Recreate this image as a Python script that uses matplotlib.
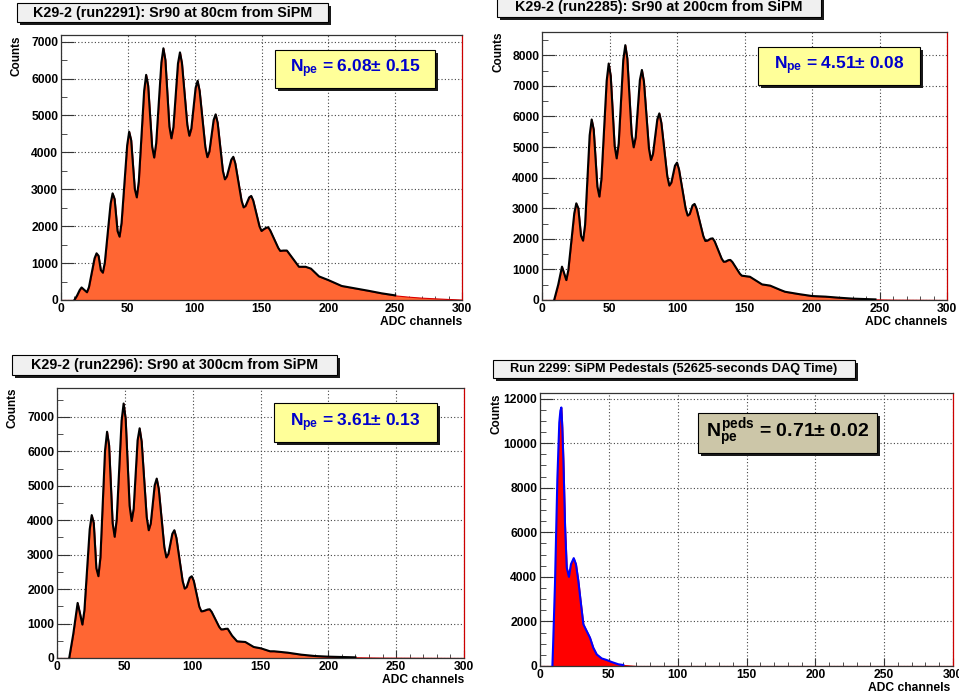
import matplotlib
matplotlib.use("Agg")
import matplotlib.pyplot as plt
from matplotlib.patches import Rectangle
from matplotlib.ticker import MultipleLocator

plt.rcParams["font.family"] = ["Liberation Sans", "DejaVu Sans"]
plt.rcParams["font.weight"] = "bold"
plt.rcParams["mathtext.fontset"] = "custom"
plt.rcParams["mathtext.rm"] = "Liberation Sans:bold"
plt.rcParams["mathtext.it"] = "Liberation Sans:bold"
plt.rcParams["mathtext.bf"] = "Liberation Sans:bold"

W, H = 959, 698

# run 2291, source at 80 cm
adc_80 = [0, 10, 12, 14, 15.4, 17.4, 19.4, 20.9, 25.1, 26.6, 28.1, 29.8, 31.3,
          32.8, 37.1, 38.6, 40.1, 42.3, 43.8, 45.3, 49.5, 51, 52.5, 55.2, 56.7,
          58.2, 62.2, 63.7, 65.2, 68.2, 69.7, 71.2, 75.1, 76.6, 78.1, 81.1, 82.6,
          84.1, 87.5, 89, 90.5, 94.5, 96, 97.5, 100.7, 102.2, 103.7, 108, 109.5,
          111, 114.2, 115.7, 117.2, 121.1, 122.6, 124.1, 127.4, 128.9, 130.4,
          135.1, 136.6, 138.1, 140.8, 142.3, 143.8, 148.5, 150, 151.5, 153.5,
          155, 156.5, 162.5, 164, 166.5, 169, 173.5, 178, 183, 187, 193, 200,
          210, 220, 230, 240, 250, 260, 270, 280, 290, 300]
counts_80 = [0, 0, 120, 270, 340, 275, 210, 347, 1128, 1265, 1197, 808, 740,
             1020, 2610, 2890, 2737, 1869, 1716, 2086, 4190, 4560, 4329, 3011,
             2780, 3212, 5668, 6100, 5809, 4151, 3860, 4245, 6435, 6820, 6503,
             4697, 4380, 4683, 6407, 6710, 6416, 4744, 4450, 4644, 5746, 5940,
             5671, 4139, 3870, 4021, 4879, 5030, 4801, 3499, 3270, 3349, 3801,
             3880, 3702, 2688, 2510, 2550, 2780, 2820, 2696, 1994, 1870, 1913,
             1957, 1970, 1887, 1413, 1330, 1340, 1340, 1120, 900, 900, 850, 640,
             540, 380, 315, 250, 180, 125, 90, 63, 45, 27, 10]

# run 2285, source at 200 cm
adc_200 = [0, 9, 12, 14.8, 16.4, 18, 19.5, 23.9, 25.4, 26.9, 28.9, 30.4, 31.9,
           35.3, 36.8, 38.3, 41, 42.5, 44, 47.9, 49.4, 50.9, 53.8, 55.3, 56.8,
           60.2, 61.7, 63.2, 66.4, 67.9, 69.4, 72.5, 74, 75.5, 79.2, 80.7, 82.2,
           85.4, 86.9, 88.4, 92.8, 94.3, 95.8, 98.5, 100, 101.5, 106.4, 107.9,
           109.4, 111.5, 113, 114.5, 119.5, 121, 122.5, 124.9, 126.4, 127.9,
           133.1, 134.6, 136.1, 138, 139.5, 141, 146.5, 148, 154, 163, 169,
           176.5, 180, 190, 200, 210, 220, 230, 240, 247, 260, 300]
counts_200 = [0, 0, 500, 1090, 870, 650, 976, 2834, 3160, 3001, 2099, 1940,
              2455, 5385, 5900, 5572, 3708, 3380, 3946, 7164, 7730, 7327, 5033,
              4630, 5111, 7849, 8330, 7896, 5424, 4990, 5319, 7191, 7520, 7137,
              4958, 4575, 4773, 5902, 6100, 5793, 4047, 3740, 3838, 4392, 4490,
              4265, 2985, 2760, 2809, 3091, 3140, 2983, 2087, 1930, 1941, 2004,
              2015, 1916, 1349, 1250, 1258, 1302, 1310, 1243, 862, 795, 760, 510,
              470, 330, 270, 195, 130, 110, 75, 45, 30, 20, 10, 0]

# run 2296, source at 300 cm
adc_300 = [0, 9, 12, 15.2, 17, 18.7, 20.2, 24.1, 25.6, 27.1, 29, 30.5, 32, 35.4,
           36.9, 38.4, 41, 42.5, 44, 47.6, 49.1, 50.6, 53.5, 55, 56.5, 59.4,
           60.9, 62.4, 66.1, 67.6, 69.1, 72, 73.5, 75, 79.1, 80.6, 82.1, 85,
           86.5, 88, 92.6, 94.1, 95.6, 97.8, 99.3, 100.8, 104.9, 106.4, 107.9,
           111, 112.5, 114, 119.5, 121, 122.5, 124.3, 125.8, 129, 132.7, 135.5,
           138.8, 145, 150.4, 157, 160, 170, 180, 190, 200, 210, 220, 240, 300]
counts_300 = [0, 0, 700, 1600, 1285, 970, 1383, 3737, 4150, 3919, 2606, 2375,
              2920, 6025, 6570, 6173, 3917, 3520, 4023, 6887, 7390, 6947, 4423,
              3980, 4330, 6320, 6670, 6285, 4095, 3710, 3905, 5015, 5210, 4912,
              3218, 2920, 3023, 3607, 3710, 3490, 2235, 2015, 2062, 2328, 2375,
              2242, 1488, 1355, 1363, 1407, 1415, 1339, 906, 830, 833, 847, 850,
              650, 485, 475, 465, 320, 280, 195, 195, 155, 97, 58, 39, 29, 20,
              10, 0]

# run 2299, pedestals
adc_ped = [0, 9, 9.5, 10.9, 12.6, 14, 14.8, 15.5, 16.2, 17, 18.2, 19.4, 21, 22.5,
           24.5, 26.1, 27.8, 29.5, 31.5, 33.9, 36.3, 38.7, 41.2, 44.8, 48.4, 52,
           57, 60.5, 70, 300]
counts_ped = [0, 0, 900, 3730, 8370, 10920, 11450, 11600, 10700, 9210, 6280,
              4420, 4000, 4570, 4840, 4570, 3840, 2920, 1870, 1570, 1270, 820,
              520, 340, 270, 180, 75, 45, 0, 0]

titles = ["K29-2 (run2291): Sr90 at 80cm from SiPM",
          "K29-2 (run2285): Sr90 at 200cm from SiPM",
          "K29-2 (run2296): Sr90 at 300cm from SiPM",
          "Run 2299: SiPM Pedestals (52625-seconds DAQ Time)"]
npe_labels = [r"$N_{pe}$ = 6.08± 0.15",
              r"$N_{pe}$ = 4.51± 0.08",
              r"$N_{pe}$ = 3.61± 0.13",
              r"$N_{pe}^{peds}$ = 0.71± 0.02"]
fit_ranges = [(10, 250), (9, 247), (9, 220), (9, 61)]
y_max = [7180, 8760, 7840, 12250]

fig = plt.figure(figsize=(W / 100, H / 100), dpi=100)


def px_axes(left, top, right, bottom):
    return fig.add_axes([left / W, 1 - bottom / H, (right - left) / W, (bottom - top) / H])


def pave(left, top, right, bottom, face, text, color, size, shadow=3):
    w, h = (right - left) / W, (bottom - top) / H
    fig.add_artist(Rectangle(((left + shadow) / W, 1 - (bottom + shadow) / H), w, h,
                             transform=fig.transFigure, facecolor="#1a1a1a",
                             edgecolor="none"))
    fig.add_artist(Rectangle((left / W, 1 - bottom / H), w, h,
                             transform=fig.transFigure, facecolor=face,
                             edgecolor="black", lw=0.8))
    fig.text((left + right) / 2 / W, 1 - (top + bottom) / 2 / H, text,
             ha="center", va="center", color=color, fontsize=size, fontweight="bold")


panels = [
    dict(adc=adc_80, counts=counts_80, box=(61, 35, 462, 300), ymajor=1000,
         fill="#ff6633", fit="black",
         tbox=(17, 3, 328, 22), tsize=10.3,
         nbox=(275, 50, 435, 88), nface="#ffff99", ncol="#0000cc", nsize=12.5),
    dict(adc=adc_200, counts=counts_200, box=(542, 32, 947, 300), ymajor=1000,
         fill="#ff6633", fit="black",
         tbox=(497, -3, 821, 17), tsize=10.3,
         nbox=(758, 47, 920, 85), nface="#ffff99", ncol="#0000cc", nsize=12.5),
    dict(adc=adc_300, counts=counts_300, box=(57, 388, 464, 658), ymajor=1000,
         fill="#ff6633", fit="black",
         tbox=(12, 355, 337, 375), tsize=10.3,
         nbox=(274, 403, 437, 442), nface="#ffff99", ncol="#0000cc", nsize=12.5),
    dict(adc=adc_ped, counts=counts_ped, box=(540, 393, 953, 666), ymajor=2000,
         fill="#ff0000", fit="#0000ff",
         tbox=(493, 360, 855, 378), tsize=9.2,
         nbox=(698, 413, 877, 453), nface="#ccc6a8", ncol="black", nsize=14),
]

for i, p in enumerate(panels):
    left, top, right, bottom = p["box"]
    ax = px_axes(left, top, right, bottom)
    ax.set_xlim(0, 300)
    ax.set_ylim(0, y_max[i])

    # histogram (filled) and fitted curve on top
    ax.fill_between(p["adc"], p["counts"], 0, facecolor=p["fill"],
                    edgecolor="#dd0000", lw=0.8, zorder=2)
    lo, hi = fit_ranges[i]
    fx = [x for x in p["adc"] if lo <= x <= hi]
    fy = [y for x, y in zip(p["adc"], p["counts"]) if lo <= x <= hi]
    ax.plot(fx, fy, color=p["fit"], lw=1.5, zorder=3, solid_joinstyle="round")

    ax.xaxis.set_major_locator(MultipleLocator(50))
    ax.xaxis.set_minor_locator(MultipleLocator(10))
    ax.yaxis.set_major_locator(MultipleLocator(p["ymajor"]))
    ax.yaxis.set_minor_locator(MultipleLocator(500))
    ax.grid(True, which="major", color="#444444", linestyle=(0, (1, 2)), lw=0.8, zorder=0)
    ax.set_axisbelow(True)
    ax.tick_params(axis="both", which="both", direction="in", labelsize=8.7,
                   pad=2, color="#333333")
    ax.tick_params(axis="x", which="major", length=6)
    ax.tick_params(axis="x", which="minor", length=3)
    ax.tick_params(axis="y", which="major", length=9)
    ax.tick_params(axis="y", which="minor", length=4.5)
    for lab in ax.get_xticklabels() + ax.get_yticklabels():
        lab.set_fontweight("bold")
    for s in ax.spines.values():
        s.set_color("#333333")
        s.set_linewidth(0.9)
    ax.spines["right"].set_color("#cc0000")

    fig.text(min(right, 950) / W, 1 - (bottom + 22) / H, "ADC channels", ha="right",
             va="center", fontsize=8.7, fontweight="bold")
    fig.text((left - 44) / W, 1 - top / H, "Counts", rotation=90, ha="center",
             va="top", fontsize=8.5, fontweight="bold")

    pave(*p["tbox"], "#f0f0f0", titles[i], "black", p["tsize"])
    pave(*p["nbox"], p["nface"], npe_labels[i], p["ncol"], p["nsize"])

fig.savefig("out.png", dpi=100, facecolor="white")
